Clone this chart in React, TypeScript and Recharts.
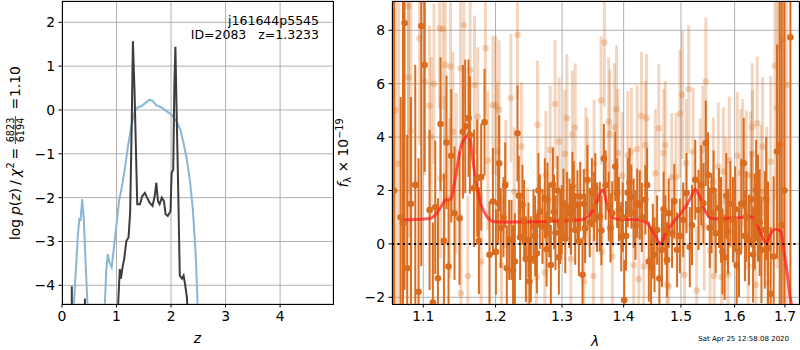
import React from 'react';
import { LineChart, Line, XAxis, YAxis, CartesianGrid, ComposedChart, Scatter, ErrorBar, ReferenceLine } from 'recharts';

// ---------- left panel: log p(z) ----------
const Z_TICKS = [0, 1, 2, 3, 4];
const LOGP_TICKS = [-4, -3, -2, -1, 0, 1, 2];

const BLUE_Z = [0.17, 0.29, 0.32, 0.34, 0.37, 0.40, 0.43, 0.495, 0.60, 0.75, 0.81, 0.84, 0.87, 0.91, 0.95, 1.01, 1.05, 1.09, 1.15, 1.21, 1.27, 1.33, 1.39, 1.46, 1.52, 1.60, 1.66, 1.73, 1.82, 1.91, 2.01, 2.10, 2.17, 2.23, 2.29, 2.35, 2.40, 2.45, 2.52];
const BLUE_LOGP = [-5.5, -2.87, -2.46, -2.53, -2.04, -2.49, -3.40, -5.2, -7.0, -5.5, -3.70, -3.29, -3.48, -3.59, -3.17, -2.49, -2.04, -1.81, -1.36, -0.83, -0.38, -0.04, 0.06, 0.09, 0.15, 0.23, 0.21, 0.11, 0.06, -0.02, -0.11, -0.26, -0.45, -0.76, -1.13, -1.66, -2.27, -3.25, -5.5];

const BLACK_Z = [0.175, 0.18, 0.185, 0.415, 0.42, 0.425, 0.99, 1.06, 1.08, 1.11, 1.14, 1.18, 1.22, 1.25, 1.28, 1.30, 1.33, 1.35, 1.38, 1.43, 1.47, 1.52, 1.56, 1.61, 1.66, 1.70, 1.73, 1.76, 1.79, 1.83, 1.87, 1.90, 1.94, 1.99, 2.01, 2.04, 2.06, 2.08, 2.10, 2.13, 2.16, 2.20, 2.23, 2.26, 2.29, 2.34];
const BLACK_LOGP = [-6, -4.02, -6, -6, -4.3, -6, -5.5, -3.63, -3.85, -3.59, -3.40, -2.99, -2.91, -2.34, -0.23, 1.57, 0.45, -0.60, -2.15, -2.15, -1.97, -1.89, -2.0, -2.12, -2.19, -1.97, -1.66, -2.08, -2.15, -2.0, -2.08, -2.38, -2.42, -2.31, -1.44, -1.36, 0.53, 1.44, 0.08, -1.74, -3.78, -3.85, -3.78, -4.0, -4.27, -5.5];

// ---------- right panel: spectrum ----------
const LAM_TICKS = [1.1, 1.2, 1.3, 1.4, 1.5, 1.6, 1.7];
const FLUX_TICKS = [-2, 0, 2, 4, 6, 8];
const FLUX_MIN = -2.251;
const FLUX_MAX = 9.097;

const DARK_LAM = [
  1.062, 1.0705, 1.0735, 1.0755, 1.079, 1.0838, 1.0895, 1.0938, 1.0974, 1.1018,
  1.1084, 1.1128, 1.116, 1.1196, 1.1231, 1.1277, 1.1312, 1.134, 1.1377, 1.1422,
  1.1491, 1.1538, 1.157, 1.1616, 1.1635, 1.1692, 1.1738, 1.1762, 1.1794, 1.1842,
  1.1913, 1.1962, 1.2038, 1.2052, 1.2115, 1.2164, 1.2198, 1.2232, 1.2282, 1.2321,
  1.236, 1.2395, 1.2446, 1.2485, 1.2521, 1.256, 1.2612, 1.2657, 1.2698, 1.2733,
  1.2774, 1.2826, 1.2857, 1.2897, 1.2928, 1.297, 1.3022, 1.3076, 1.3116, 1.3163,
  1.3207, 1.3243, 1.3287, 1.3324, 1.3366, 1.3403, 1.3475, 1.3511, 1.356, 1.3605,
  1.367, 1.375, 1.381, 1.386, 1.392, 1.396, 1.401, 1.407, 1.413, 1.417,
  1.423, 1.4275, 1.437, 1.443, 1.447, 1.453, 1.4575, 1.466, 1.472, 1.478,
  1.484, 1.493, 1.504, 1.516, 1.526, 1.532, 1.541, 1.5455, 1.5497, 1.556,
  1.564, 1.5703, 1.5767, 1.581, 1.5873, 1.5919, 1.5968, 1.6085, 1.613, 1.6176,
  1.6228, 1.628, 1.6327, 1.6391, 1.6457, 1.6525, 1.6591, 1.6656, 1.671, 1.677,
  1.6838, 1.6892, 1.6932, 1.6985, 1.7111,
  1.2005, 1.2075, 1.214, 1.2255, 1.234, 1.242, 1.25, 1.2585, 1.2635, 1.276,
  1.28, 1.2875, 1.295, 1.2995, 1.305, 1.314, 1.3185, 1.3265, 1.3345, 1.344,
  1.353, 1.363, 1.37, 1.378, 1.389, 1.3985, 1.404, 1.41, 1.42, 1.431,
  1.44, 1.45, 1.4615, 1.469, 1.475, 1.488, 1.498, 1.51, 1.52, 1.537,
  1.553, 1.56, 1.574, 1.584, 1.601, 1.604, 1.62, 1.636, 1.642, 1.649,
  1.662,
];
const DARK_FLUX = [
  2.0, 1.0, 0.77, 8.27, -0.91, 1.5, 2.21, -1.79, 8.16, 6.7,
  1.27, -2.2, 1.37, -1.29, 4.49, 0.12, 3.8, -0.85, 3.3, 1.15,
  0.96, 4.2, 4.4, 4.71, 4.08, 2.08, 2.46, 0.12, 2.5, 4.56,
  -0.41, 1.59, 1.52, 3.02, 1.0, -0.91, 0.15, 0.15, -0.66, 4.14,
  0.25, 1.46, -0.57, 0.15, -0.57, 0.65, -0.35, 1.21, 0.65, 1.71,
  1.65, -0.79, 2.21, 0.42, 2.0, 0.65, 1.52, 1.4, 1.15, 2.15,
  0.52, 1.46, 1.77, -1.16, 0.59, 2.4, 1.92, 1.4, 1.0, 1.02,
  3.2, 1.4, 1.15, 2.9, 1.3, 0.27, -2.1, 1.92, 1.77, 1.15,
  1.52, 1.46, 1.65, -0.66, -0.85, -0.41, 0.52, -0.22, 0.52, 1.15,
  0.4, -0.22, 0.9, -0.12, 2.4, 1.27, 1.52, 3.77, 2.58, 1.15,
  0.4, 1.34, -0.29, -0.5, 0.46, 1.5, 0.9, -0.29, 1.5, 3.02,
  1.02, 0.15, 1.67, 0.84, 1.34, -0.22, 0.52, -0.16, -1.87, -0.47,
  3.46, 3.71, 0.71, 2.0, 7.74,
  -0.3, 0.6, 2.2, -1.0, 1.8, 0.9, -1.4, 0.3, 2.0, -0.2,
  0.9, 1.2, -0.5, 0.9, 0.2, 0.9, 1.8, 0.1, 1.5, 0.8,
  2.1, 0.5, 2.2, 0.6, 1.9, 1.0, 0.3, 2.3, 0.7, 1.0,
  2.2, 0.1, -1.3, 1.3, -0.6, 1.6, 0.3, 1.9, 0.7, 2.2,
  0.6, 2.0, 0.9, 1.8, 1.3, -0.8, 0.3, -0.4, 2.0, 0.8,
  1.7,
];
const DARK_ERR = [
  12, 4.5, 10, 10, 5, 4, 4.5, 5, 9, 4,
  3, 3, 2.5, 3, 2.5, 2.5, 2.5, 2.5, 2.5, 2.5,
  2.5, 2.5, 2.5, 2.2, 2.2, 2.2, 2.2, 2, 2, 2,
  2, 2, 1.5, 1.8, 1.5, 1.6, 1.5, 1.5, 1.8, 1.8,
  1.6, 1.5, 1.6, 1.4, 1.6, 1.4, 1.5, 1.4, 1.4, 1.5,
  1.4, 1.5, 1.4, 1.4, 1.3, 1.4, 1.3, 1.3, 1.3, 1.3,
  1.3, 1.3, 1.3, 1.4, 1.3, 1.3, 1.3, 1.3, 1.3, 1.3,
  1.3, 1.3, 1.2, 1.3, 1.2, 1.3, 1.5, 1.3, 1.2, 1.3,
  1.3, 1.3, 1.3, 1.5, 1.5, 1.4, 1.3, 1.4, 1.3, 1.3,
  1.3, 1.4, 1.4, 1.5, 1.5, 1.5, 1.5, 1.6, 1.6, 1.5,
  1.5, 1.5, 1.6, 1.6, 1.6, 1.6, 1.6, 1.7, 1.7, 1.7,
  1.7, 1.7, 1.8, 1.8, 2.0, 2.0, 2.2, 2.5, 2.5, 3,
  4, 8, 10, 12, 12,
  1.6, 1.5, 1.6, 1.7, 1.5, 1.5, 1.6, 1.5, 1.4, 1.4,
  1.4, 1.4, 1.4, 1.3, 1.3, 1.3, 1.3, 1.3, 1.3, 1.3,
  1.3, 1.3, 1.3, 1.3, 1.3, 1.3, 1.3, 1.3, 1.3, 1.3,
  1.4, 1.4, 1.4, 1.4, 1.4, 1.4, 1.4, 1.5, 1.5, 1.5,
  1.5, 1.5, 1.6, 1.6, 1.6, 1.7, 1.7, 1.8, 1.9, 2.0,
  2.3,
];

const LIGHT_LAM = [
  1.064, 1.068, 1.0805, 1.0807, 1.0838, 1.0951, 1.1018, 1.1084, 1.1106, 1.1142,
  1.1218, 1.1231, 1.1264, 1.1285, 1.1295, 1.1353, 1.1367, 1.14, 1.1445, 1.1505,
  1.151, 1.1551, 1.1607, 1.1639, 1.17, 1.1746, 1.1794, 1.1856, 1.1889, 1.1962,
  1.2005, 1.2029, 1.2052, 1.2086, 1.215, 1.2224, 1.2272, 1.2321, 1.238, 1.247,
  1.2605, 1.2621, 1.2733, 1.2749, 1.2815, 1.2892, 1.2954, 1.3044, 1.3076, 1.3138,
  1.3163, 1.3207, 1.335, 1.3377, 1.3403, 1.35, 1.3511, 1.3625, 1.3637, 1.368,
  1.375, 1.3769, 1.381, 1.3845, 1.388, 1.3902, 1.3974, 1.407, 1.4132, 1.417,
  1.423, 1.4257, 1.4302, 1.4343, 1.437, 1.439, 1.4546, 1.4604, 1.4692, 1.472,
  1.475, 1.478, 1.4834, 1.491, 1.4979, 1.5025, 1.5062, 1.5092, 1.514, 1.522,
  1.5285, 1.535, 1.5403, 1.5426, 1.5455, 1.5534, 1.5596, 1.561, 1.5689, 1.5754,
  1.5785, 1.5835, 1.5873, 1.5899, 1.6052, 1.6119, 1.6157, 1.6228, 1.6264, 1.631,
  1.6343, 1.6348, 1.6416, 1.6442, 1.6515, 1.6548, 1.663, 1.665, 1.671, 1.6796,
  1.6838, 1.6878, 1.6945, 1.7036,
];
const LIGHT_FLUX = [
  5.0, 3.0, 8.9, 6.24, 4.24, 7.7, 6.08, 5.17, 4.0, 6.0,
  8.08, 2.46, 8.04, 2.55, 6.7, 1.71, 6.64, 4.2, 2.65, 6.58,
  -1.85, 8.2, -1.2, 6.5, 5.95, 4.77, -0.66, 7.33, 3.12, 5.2,
  5.17, 3.46, 5.02, -0.79, 2.25, 5.46, 1.96, 7.83, 3.65, -0.3,
  -1.25, 4.46, -1.07, 2.58, 3.52, 5.24, 3.83, 3.37, 4.71, -0.57,
  4.1, 4.36, -1.41, 2.71, 2.33, -1.2, 3.0, 5.37, -0.3, 7.54,
  4.58, 4.12, -0.47, 4.37, 5.04, 3.4, 2.55, 3.32, 3.45, -0.79,
  3.55, -1.32, 4.79, -0.85, 3.7, 4.71, 2.65, 4.33, 3.4, 3.7,
  -1.54, -1.6, 2.5, 2.5, 4.87, 5.58, -1.16, 3.02, 5.79, 3.45,
  -1.75, 2.3, 3.52, 0.65, 6.08, -0.25, 2.33, -1.2, 2.9, -1.25,
  2.71, 1.6, -1.15, 3.12, 3.3, 2.65, 3.02, 2.6, -0.85, 2.55,
  4.37, 3.37, -1.54, 4.52, 1.96, 3.65, 1.59, -1.45, 3.08, 6.67,
  5.08, 7.39, 7.64, 5.95,
];
const LIGHT_ERR = [
  10, 10, 7, 6, 5, 4, 3.5, 3, 3, 3,
  3, 3, 3, 3, 3, 3, 3, 3, 3, 3,
  3, 3, 3, 3, 2.6, 2.6, 2.6, 2.6, 2.6, 2.6,
  2.6, 2.6, 2.6, 2.6, 2.4, 2.4, 2.4, 2.4, 2.4, 2.4,
  2.4, 2.4, 2.4, 2.4, 2.4, 2.4, 2.4, 2.4, 2.4, 2.4,
  2.4, 2.4, 2.4, 2.4, 2.4, 2.4, 2.4, 2.4, 2.4, 2.4,
  2.4, 2.4, 2.4, 2.4, 2.4, 2.4, 2.4, 2.4, 2.4, 2.4,
  2.4, 2.4, 2.4, 2.4, 2.4, 2.4, 2.4, 2.4, 2.4, 2.4,
  2.4, 2.4, 2.4, 2.4, 2.4, 2.4, 2.4, 2.4, 2.4, 2.4,
  2.4, 2.4, 2.4, 2.4, 2.4, 2.4, 2.4, 2.4, 2.4, 2.4,
  2.4, 2.4, 2.4, 2.4, 2.4, 2.4, 2.4, 2.4, 2.4, 2.4,
  2.4, 2.4, 2.5, 2.5, 2.5, 2.6, 2.8, 2.8, 3.2, 5,
  6, 8, 9, 10,
];

const MODEL_LAM = [1.0735, 1.09, 1.1097, 1.118, 1.124, 1.1306, 1.137, 1.1444, 1.151, 1.158, 1.1627, 1.167, 1.1717, 1.1786, 1.1877, 1.197, 1.212, 1.26, 1.3038, 1.3303, 1.3441, 1.355, 1.3622, 1.366, 1.3716, 1.38, 1.3913, 1.4257, 1.4402, 1.452, 1.4637, 1.4727, 1.4848, 1.5, 1.5123, 1.5216, 1.526, 1.534, 1.5435, 1.5562, 1.5657, 1.6, 1.6309, 1.6409, 1.651, 1.6624, 1.6713, 1.6815, 1.6917, 1.6985, 1.7054, 1.7109, 1.714];
const MODEL_FLUX = [0.9, 0.91, 0.96, 1.15, 1.4, 1.65, 1.68, 2.65, 3.65, 4.0, 4.09, 3.27, 2.4, 1.52, 1.02, 0.84, 0.82, 0.83, 0.87, 0.9, 1.09, 1.52, 1.96, 2.02, 1.52, 1.02, 0.92, 0.9, 0.77, 0.4, 0.0, 0.4, 0.77, 1.15, 1.52, 1.9, 2.05, 1.77, 1.27, 0.96, 0.94, 0.97, 1.02, 0.84, 0.4, 0.02, 0.4, 0.55, 0.46, -0.35, -1.22, -2.04, -2.3];

// ---------- derived tables ----------
// error bars are cut at the plot frame (as the axes clip them)
const clipErr = (y: number, e: number) => [
  Math.max(0, Math.min(e, y - FLUX_MIN)),
  Math.max(0, Math.min(e, FLUX_MAX - y)),
];
const blueData = BLUE_Z.map((x, i) => ({ x, y: BLUE_LOGP[i] }));
const blackData = BLACK_Z.map((x, i) => ({ x, y: BLACK_LOGP[i] }));
const darkData = DARK_LAM.map((x, i) => ({ x, y: DARK_FLUX[i], e: clipErr(DARK_FLUX[i], DARK_ERR[i]) }));
const lightData = LIGHT_LAM.map((x, i) => ({ x, y: LIGHT_FLUX[i], e: clipErr(LIGHT_FLUX[i], LIGHT_ERR[i]) }));
const modelData = MODEL_LAM.map((x, i) => ({ x, y: MODEL_FLUX[i] }));

const ORANGE = '#d96c1e';
const ORANGE_LIGHT = 'rgba(217,108,30,0.28)';
const FONT = '"DejaVu Sans", sans-serif';
const TICK = { fill: '#000', fontSize: 13.9, fontFamily: FONT };
const minus = (v: number) => (v < 0 ? '\u2212' + Math.abs(v) : String(v));

const darkDot = (p: any) => <circle cx={p.cx} cy={p.cy} r={3.3} fill={ORANGE} />;
const lightDot = (p: any) => <circle cx={p.cx} cy={p.cy} r={3.3} fill={ORANGE_LIGHT} />;

export default function App() {
  return (
    <div style={{ position: 'absolute', left: 0, top: 0, width: 800, height: 350, background: '#fff', fontFamily: FONT }}>
      <div style={{ position: 'absolute', left: 0, top: 0 }}>
        <LineChart width={340} height={350} margin={{ top: 1, right: 7, bottom: 0, left: 0 }}>
          <CartesianGrid stroke="#b0b0b0" strokeWidth={1} />
          <XAxis type="number" dataKey="x" domain={[0, 4.97]} ticks={Z_TICKS} allowDataOverflow height={46}
            tickSize={3.5} tickMargin={3.5} tick={TICK} axisLine={false} tickLine={{ stroke: '#000' }} interval={0} />
          <YAxis type="number" dataKey="y" domain={[-4.427, 2.486]} ticks={LOGP_TICKS} allowDataOverflow width={62}
            tickSize={3.5} tickMargin={3.5} tick={TICK} axisLine={false} tickLine={{ stroke: '#000' }} tickFormatter={minus} interval={0} />
          <Line data={blueData} dataKey="y" type="linear" stroke="#88b6d7" strokeWidth={2} dot={false} isAnimationActive={false} />
          <Line data={blackData} dataKey="y" type="linear" stroke="#3d3d3d" strokeWidth={2} dot={false} isAnimationActive={false} />
        </LineChart>
      </div>
      <div style={{ position: 'absolute', left: 340, top: 0 }}>
        <ComposedChart width={460} height={350} margin={{ top: 1, right: 1, bottom: 0, left: 0 }}>
          <CartesianGrid stroke="#b0b0b0" strokeWidth={1} />
          <XAxis type="number" dataKey="x" scale="log" domain={[1.0594, 1.7289]} ticks={LAM_TICKS} allowDataOverflow height={46}
            tickSize={3.5} tickMargin={3.5} tick={TICK} axisLine={false} tickLine={{ stroke: '#000' }} interval={0}
            tickFormatter={(v: number) => v.toFixed(1)} />
          <YAxis type="number" dataKey="y" domain={[FLUX_MIN, FLUX_MAX]} ticks={FLUX_TICKS} allowDataOverflow width={52}
            tickSize={3.5} tickMargin={3.5} tick={TICK} axisLine={false} tickLine={{ stroke: '#000' }} tickFormatter={minus} interval={0} />
          <Scatter data={lightData} dataKey="y" shape={lightDot} isAnimationActive={false}>
            <ErrorBar dataKey="e" direction="y" width={0} strokeWidth={3} stroke={ORANGE_LIGHT} />
          </Scatter>
          <Scatter data={darkData} dataKey="y" shape={darkDot} isAnimationActive={false}>
            <ErrorBar dataKey="e" direction="y" width={0} strokeWidth={2} stroke={ORANGE} />
          </Scatter>
          <Line data={modelData} dataKey="y" type="monotone" stroke="#ff1a1a" strokeOpacity={0.7} strokeWidth={3} dot={false} isAnimationActive={false} />
          <ReferenceLine y={0} stroke="#000" strokeWidth={2} strokeDasharray="2 3.5" />
        </ComposedChart>
      </div>
      <svg width={800} height={350} style={{ position: 'absolute', left: 0, top: 0, pointerEvents: 'none' }}>
        <rect x={62} y={1} width={271} height={303} fill="none" stroke="#000" strokeWidth={1} shapeRendering="crispEdges" />
        <rect x={392} y={1} width={407} height={303} fill="none" stroke="#000" strokeWidth={1} shapeRendering="crispEdges" />
        <text x={319} y={25} textAnchor="end" fontSize={12.5} fill="#000">j161644p5545</text>
        <text x={319} y={39.3} textAnchor="end" fontSize={12.5} fill="#000" style={{ whiteSpace: 'pre' }}>ID=2083   z=1.3233</text>
        <text x={197.5} y={343} textAnchor="middle" fontSize={13.9} fontStyle="italic" fill="#000">z</text>
        <text x={595} y={345.5} textAnchor="middle" fontSize={13.9} fontStyle="italic" fill="#000">λ</text>
        <text x={789} y={341} textAnchor="end" fontSize={7} fill="#000">Sat Apr 25 12:58:08 2020</text>
        <g transform="translate(19.5,154) rotate(-90)" fill="#000" fontSize={13.9}>
          <text x={-86} y={0}>log</text>
          <text x={-61} y={0}><tspan fontStyle="italic">p</tspan>(<tspan fontStyle="italic">z</tspan>)</text>
          <text x={-31} y={0}>/</text>
          <text x={-23} y={0} fontStyle="italic">χ</text>
          <text x={-14.5} y={-6} fontSize={9.7}>2</text>
          <text x={-5.5} y={0}>=</text>
          <text x={24} y={-5.5} fontSize={9.7} textAnchor="middle">6823</text>
          <line x1={10} x2={38} y1={-4.2} y2={-4.2} stroke="#000" strokeWidth={0.8} />
          <text x={24} y={4} fontSize={9.7} textAnchor="middle">6194</text>
          <text x={44.5} y={0}>=</text>
          <text x={57} y={0}>1.10</text>
        </g>
        <g transform="translate(348,153) rotate(-90)" fill="#000" fontSize={13.9}>
          <text x={0} y={0} textAnchor="middle">
            <tspan fontStyle="italic">f</tspan>
            <tspan fontSize={9.7} dy={2.5}>λ</tspan>
            <tspan dy={-2.5}> × 10</tspan>
            <tspan fontSize={9.7} dy={-5.5}>−19</tspan>
          </text>
        </g>
      </svg>
    </div>
  );
}
